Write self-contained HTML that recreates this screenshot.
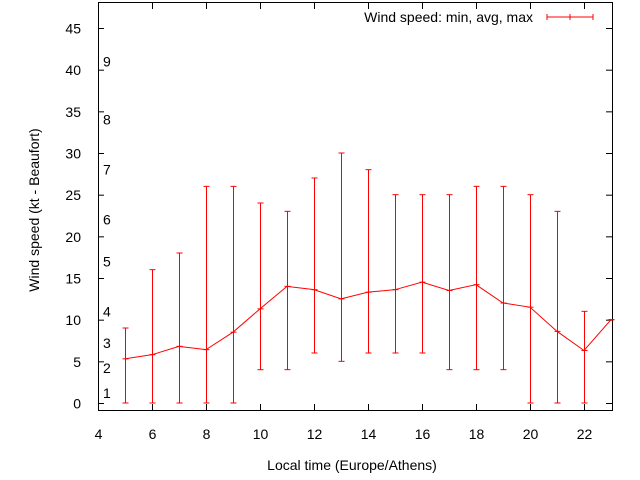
<!DOCTYPE html>
<html><head><meta charset="utf-8"><style>
body{margin:0;background:#fff}
svg{display:block;font-family:"Liberation Sans",sans-serif;font-size:14px}
</style></head><body>
<svg id="c" width="640" height="480">
<rect x="98.5" y="2.5" width="514" height="408" fill="none" stroke="#000"/>
<g id="axes"></g>
<g id="beaufort"></g>
<g id="series"></g>
<text x="352" y="470" text-anchor="middle">Local time (Europe/Athens)</text>
<text transform="translate(39,210) rotate(-90)" text-anchor="middle">Wind speed (kt - Beaufort)</text>
<g>
<text x="533" y="22" text-anchor="end">Wind speed: min, avg, max</text>
<line x1="547" y1="17" x2="593" y2="17" stroke="red"/>
<line x1="547" y1="14" x2="547" y2="20" stroke="red"/>
<line x1="593" y1="14" x2="593" y2="20" stroke="red"/>
<line x1="570" y1="14" x2="570" y2="20" stroke="red"/>
</g>
</svg>
<script>
const hours=[5,6,7,8,9,10,11,12,13,14,15,16,17,18,19,20,21,22,23];
const avgs=[5.3,5.8,6.8,6.4,8.5,11.3,14,13.6,12.5,13.3,13.6,14.5,13.5,14.2,12,11.5,8.6,6.3,10];
const mins=[0,0,0,0,0,4,4,6,5,6,6,6,4,4,4,0,0,0,10];
const maxs=[9,16,18,26,26,24,23,27,30,28,25,25,25,26,26,25,23,11,10];
const xTicks=[4,6,8,10,12,14,16,18,20,22];
const yTicks=[0,5,10,15,20,25,30,35,40,45];
const bfLabels=["1","2","3","4","5","6","7","8","9"];
const bfPos=[1.2,4.2,7.2,11,17,22,28,34,41];
const NS="http://www.w3.org/2000/svg";
const X=v=>98+(v-4)*27, Y=v=>403-v*8.333;
function mk(t,a,p){const e=document.createElementNS(NS,t);for(const k in a)e.setAttribute(k,a[k]);p.appendChild(e);return e;}
const ax=document.getElementById('axes');
xTicks.forEach(v=>{const x=X(v)+0.5;
 mk('line',{x1:x,y1:410,x2:x,y2:404,stroke:'#000'},ax);
 mk('line',{x1:x,y1:3,x2:x,y2:9,stroke:'#000'},ax);
 const t=mk('text',{x:x,y:439,'text-anchor':'middle'},ax);
 
 
 t.textContent=v;});
yTicks.forEach(v=>{const y=Y(v)+0.5;
 mk('line',{x1:98,y1:y,x2:104,y2:y,stroke:'#000'},ax);
 mk('line',{x1:612,y1:y,x2:606,y2:y,stroke:'#000'},ax);
 const t=mk('text',{x:81,y:y+5,'text-anchor':'end'},ax);
 
 
 t.textContent=v;});
const bf=document.getElementById('beaufort');
bfLabels.forEach((l,i)=>{const t=mk('text',{x:103,y:Y(bfPos[i])+5},bf);
 
 
 t.textContent=l;});
const s=document.getElementById('series');
const line=mk('polyline',{points:hours.map((h,i)=>X(h)+','+Y(avgs[i])).join(' '),fill:'none',stroke:'red'},s);


hours.forEach((h,i)=>{const x=X(h)+0.5;
 const g=mk('g',{stroke:'red'},s);
 
 
 mk('line',{x1:x,y1:Y(mins[i]),x2:x,y2:Y(maxs[i])},g);
 [mins[i],maxs[i],avgs[i]].forEach(v=>mk('line',{x1:x-3,y1:Y(v),x2:x+3,y2:Y(v)},g));});
</script>
</body></html>
